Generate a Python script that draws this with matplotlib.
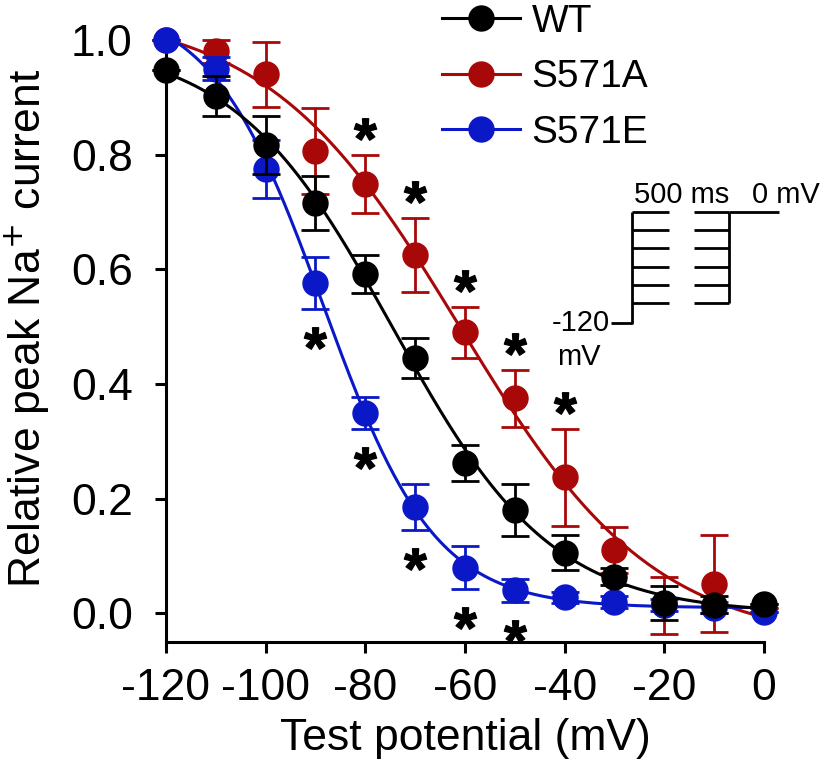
import numpy as np
import matplotlib
matplotlib.use("Agg")
import matplotlib.pyplot as plt
from matplotlib.lines import Line2D
from matplotlib.textpath import TextPath
from matplotlib.font_manager import FontProperties
from matplotlib.path import Path

plt.rcParams["font.family"] = ["Liberation Sans", "DejaVu Sans"]
plt.rcParams["axes.unicode_minus"] = False

# test potentials (mV)
volts = np.array([-120, -110, -100, -90, -80, -70, -60, -50, -40, -30, -20, -10, 0])

# relative peak Na+ current, mean and SEM
wt_mean = [0.948, 0.902, 0.817, 0.716, 0.592, 0.445, 0.262, 0.180, 0.106, 0.064, 0.018, 0.015, 0.017]
wt_err = [0.0, 0.035, 0.05, 0.047, 0.033, 0.035, 0.032, 0.045, 0.03, 0.015, 0.03, 0.015, 0.0]

a_mean = [1.0, 0.98, 0.94, 0.806, 0.749, 0.625, 0.49, 0.375, 0.237, 0.11, 0.014, 0.052, 0.01]
a_err = [0.0, 0.02, 0.057, 0.075, 0.05, 0.065, 0.045, 0.05, 0.085, 0.04, 0.05, 0.085, 0.0]

e_mean = [1.0, 0.95, 0.775, 0.576, 0.349, 0.185, 0.08, 0.04, 0.028, 0.02, 0.015, 0.01, 0.003]
e_err = [0.0, 0.02, 0.05, 0.045, 0.028, 0.04, 0.038, 0.02, 0.01, 0.01, 0.01, 0.01, 0.0]

# voltages with significant difference vs WT
sig_a = [-80, -70, -60, -50, -40]
sig_e = [-90, -80, -70, -60, -50]

labels = ["WT", "S571A", "S571E"]
colors = ["#000000", "#A80808", "#0A18C8"]


def boltzmann_fit(v, y):
    # grid over V1/2 and k, amplitude/offset solved linearly
    y = np.asarray(y, float)
    vh = np.arange(-110, -30, 0.25)[:, None, None]
    k = np.arange(3, 25, 0.1)[None, :, None]
    f = 1.0 / (1.0 + np.exp((v[None, None, :] - vh) / k))
    g = 1.0 - f
    sff, sgg, sfg = (f * f).sum(-1), (g * g).sum(-1), (f * g).sum(-1)
    sfy, sgy = (f * y).sum(-1), (g * y).sum(-1)
    det = sff * sgg - sfg ** 2
    A = (sfy * sgg - sgy * sfg) / det
    C = (sgy * sff - sfy * sfg) / det
    res = ((A[..., None] * f + C[..., None] * g - y) ** 2).sum(-1)
    i, j = np.unravel_index(np.argmin(res), res.shape)
    return vh[i, 0, 0], k[0, j, 0], A[i, j], C[i, j]


# bold asterisk glyph as a marker, centred on its outline
tp = TextPath((0, 0), "*", prop=FontProperties(family="Liberation Sans", weight="bold"))
codes = tp.codes
real = codes != Path.CLOSEPOLY
centre = (tp.vertices[real].min(0) + tp.vertices[real].max(0)) / 2
verts = tp.vertices - centre
verts[~real] = 0.0
star = Path(verts, codes)

fig = plt.figure(figsize=(8.25, 7.68), dpi=100)
ax = fig.add_axes([0.2012, 0.164, 0.7248, 0.784])

vv = np.linspace(-120, 0, 300)
series = [(wt_mean, wt_err), (a_mean, a_err), (e_mean, e_err)]
zorders = [6, 4, 5]
for (m, e), c, z in zip(series, colors, zorders):
    vh, k, A, C = boltzmann_fit(volts, m)
    ax.plot(vv, C + (A - C) / (1 + np.exp((vv - vh) / k)), color=c, lw=2.2,
            zorder=z, clip_on=False)
    ax.errorbar(volts, m, yerr=e, fmt="o", color=c, ms=18, elinewidth=2.0,
                capsize=10, capthick=2.0, zorder=z, clip_on=False)

# significance asterisks
a_lookup = dict(zip(volts, zip(a_mean, a_err)))
e_lookup = dict(zip(volts, zip(e_mean, e_err)))
for v in sig_a:
    m, e = a_lookup[v]
    ax.plot(v, m + e + 0.045, marker=star, ms=16, color="black",
            ls="none", clip_on=False, zorder=7)
for v in sig_e:
    m, e = e_lookup[v]
    ax.plot(v, m - e - 0.05, marker=star, ms=16, color="black",
            ls="none", clip_on=False, zorder=7)

ax.set_xlim(-120, 0)
ax.set_ylim(-0.05, 1.0)
ax.set_xticks(np.arange(-120, 1, 20))
ax.set_yticks(np.arange(0, 1.01, 0.2))
ax.set_yticklabels([f"{t:.1f}" for t in np.arange(0, 1.01, 0.2)])
ax.spines["top"].set_visible(False)
ax.spines["right"].set_visible(False)
for s in ("left", "bottom"):
    ax.spines[s].set_linewidth(2.2)
ax.tick_params(axis="both", direction="out", length=8, width=2.2, labelsize=32)
ax.tick_params(axis="y", pad=16)
ax.tick_params(axis="x", pad=11)
ax.set_xlabel("Test potential (mV)", fontsize=32, labelpad=6)
ax.set_ylabel("Relative peak Na$^{+}$ current", fontsize=32)
ax.yaxis.set_label_coords(-0.19, 0.52)

# pulse protocol schematic
kw = dict(color="black", lw=2.0, clip_on=False, solid_capstyle="butt")
levels = np.linspace(0.700, 0.541, 6)
ax.plot([-30.6, -26.4, -26.4], [0.506, 0.506, 0.700], **kw)
for lv in levels:
    ax.plot([-26.4, -19.0], [lv, lv], **kw)
    ax.plot([-14.0, -7.0], [lv, lv], **kw)
ax.plot([-7.0, -7.0], [0.541, 0.700], **kw)
ax.plot([-7.0, 3.0], [0.700, 0.700], **kw)
ax.text(-26.0, 0.716, "500 ms", fontsize=21, ha="left", va="baseline")
ax.text(-2.4, 0.716, "0 mV", fontsize=21, ha="left", va="baseline")
ax.text(-31.0, 0.506, "-120", fontsize=21, ha="right", va="center")
ax.text(-41.6, 0.447, "mV", fontsize=21, ha="left", va="center")

handles = [Line2D([], [], color=c, lw=2.2, marker="o", ms=18) for c in colors]
ax.legend(handles, labels, loc="upper left", bbox_to_anchor=(0.536, 0.995),
          bbox_transform=fig.transFigure, frameon=False, fontsize=28,
          handlelength=2.0, handletextpad=0.3, labelspacing=0.5,
          borderpad=0, borderaxespad=0)

fig.savefig("out.png", dpi=100)
